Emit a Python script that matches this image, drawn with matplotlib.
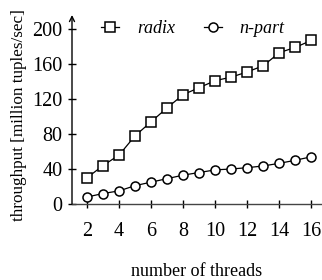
import matplotlib
matplotlib.use("Agg")
import matplotlib.pyplot as plt

plt.rcParams['font.family'] = ['Liberation Serif', 'DejaVu Serif']

threads = [2, 3, 4, 5, 6, 7, 8, 9, 10, 11, 12, 13, 14, 15, 16]
radix = [30, 44, 56, 78, 94, 110, 125, 133, 141, 145, 151, 158, 173, 179, 187]
npart = [8, 12, 15, 21, 25, 29, 33, 36, 39, 40, 41.5, 43.5, 46.5, 50, 54]
xticks = [2, 4, 6, 8, 10, 12, 14, 16]
yticks = [0, 40, 80, 120, 160, 200]

fig = plt.figure(figsize=(3.22, 2.80), dpi=100)
ax = fig.add_axes([72/322, 1-204/280, 249/322, 189/280])

ax.plot(threads, radix, color='black', lw=0.9, marker='s', ms=6.5,
        mfc='white', mec='black', mew=1.1, label='radix')
ax.plot(threads, npart, color='black', lw=0.9, marker='o', ms=6.5,
        mfc='white', mec='black', mew=1.1, label='n-part')

ax.set_xlim(1.06, 16.6)
ax.set_ylim(0, 216)
ax.set_xticks(xticks)
ax.set_yticks(yticks)

for s in ['top', 'right', 'left']:
    ax.spines[s].set_visible(False)
ax.spines['bottom'].set_color('#444444')
ax.spines['bottom'].set_linewidth(1.0)
# y axis drawn as an arrow
ax.annotate('', xy=(0, 1.0), xytext=(0, 0), xycoords='axes fraction',
            arrowprops=dict(arrowstyle='->', lw=1.0, color='black',
                            shrinkA=0, shrinkB=0, mutation_scale=9))

ax.tick_params(direction='inout', length=6, width=1.0, labelsize=14.5)
ax.tick_params(axis='y', pad=4)
ax.tick_params(axis='x', pad=10)

ax.set_xlabel('number of threads', fontsize=13, labelpad=16)
ax.set_ylabel('throughput [million tuples/sec]', fontsize=12.3, va='center')
ax.yaxis.set_label_coords(-0.213, 0.47)

leg = ax.legend(loc='upper left', bbox_to_anchor=(0.05, 1.06), ncol=2,
                frameon=False, handlelength=1.0,
                handletextpad=1.0, columnspacing=1.6,
                prop={'style': 'italic', 'size': 13})

fig.savefig('out.png', dpi=100)
